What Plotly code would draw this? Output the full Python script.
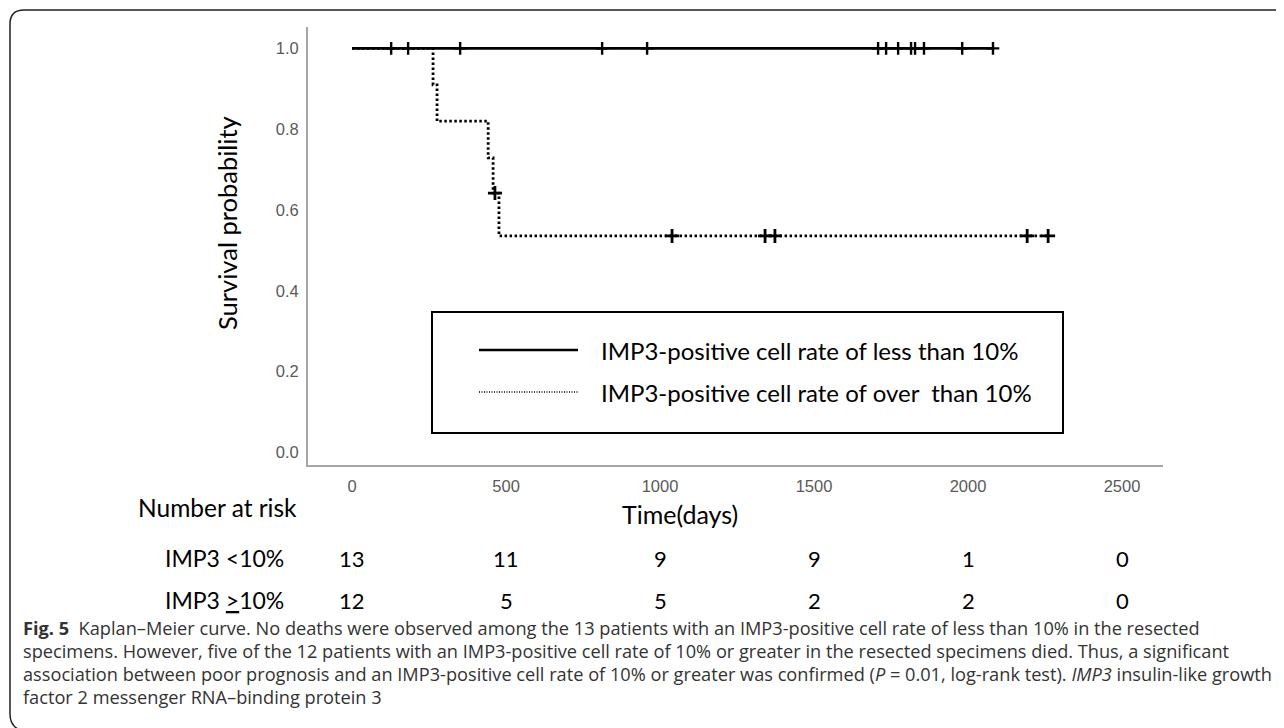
import plotly.graph_objects as go

# ---------------- data ----------------
# Group 1: IMP3 < 10% (no deaths)
low_times = [0, 2081]
low_surv = [1.0, 1.0]
low_censor_times = [127, 182, 351, 812, 958, 1708, 1734, 1773, 1815, 1828, 1857, 1981, 2081]
low_censor_surv = [1.0] * len(low_censor_times)

# Group 2: IMP3 >= 10%
high_times = [0, 263, 276, 442, 458, 477, 2260]
high_surv = [1.0, 0.910, 0.820, 0.729, 0.642, 0.536, 0.536]
high_censor_times = [464, 1039, 1341, 1373, 2192, 2260]
high_censor_surv = [0.642, 0.536, 0.536, 0.536, 0.536, 0.536]

x_ticks = [0, 500, 1000, 1500, 2000, 2500]
x_tick_labels = ["0", "500", "1000", "1500", "2000", "2500"]
y_ticks = [0.0, 0.2, 0.4, 0.6, 0.8, 1.0]
y_tick_labels = ["0.0", "0.2", "0.4", "0.6", "0.8", "1.0"]

risk_times = [0, 500, 1000, 1500, 2000, 2500]
risk_low = [13, 11, 9, 9, 1, 0]
risk_high = [12, 5, 5, 2, 2, 0]
risk_labels = ["IMP3 <10%", "IMP3 <u>></u>10%"]

legend_labels = ["IMP3-positive cell rate of less than 10%",
                 "IMP3-positive cell rate of over  than 10%"]

caption_lines = [
    "<b>Fig. 5</b>  Kaplan–Meier curve. No deaths were observed among the 13 patients with an IMP3-positive cell rate of less than 10% in the resected",
    "specimens. However, five of the 12 patients with an IMP3-positive cell rate of 10% or greater in the resected specimens died. Thus, a significant",
    "association between poor prognosis and an IMP3-positive cell rate of 10% or greater was confirmed (<i>P</i> = 0.01, log-rank test). <i>IMP3</i> insulin-like growth",
    "factor 2 messenger RNA–binding protein 3",
]

# ---------------- layout geometry ----------------
OFF = 8                      # page body margin of the browser
W, H = 1284 - OFF, 728 - OFF
L, R, T, B = 300, 121, 19, 263
PW, PH = W - L - R, H - T - B


def px(xp):
    return (xp - OFF - L) / PW


def py(yp):
    return 1 - (yp - OFF - T) / PH


CHART_FONT = "Lato"
CAP_FONT = "Open Sans"

fig = go.Figure()

fig.add_trace(go.Scatter(x=low_times, y=low_surv, mode="lines", line_shape="hv",
                         line=dict(color="black", width=2.6), showlegend=False,
                         hoverinfo="skip"))
fig.add_trace(go.Scatter(x=low_censor_times, y=low_censor_surv, mode="markers",
                         marker=dict(symbol="cross-thin", size=9,
                                     line=dict(color="black", width=2.4)),
                         showlegend=False, hoverinfo="skip"))
fig.add_trace(go.Scatter(x=high_times, y=high_surv, mode="lines", line_shape="hv",
                         line=dict(color="black", width=2.8, dash="2.5px,2.5px"),
                         showlegend=False, hoverinfo="skip"))
fig.add_trace(go.Scatter(x=high_censor_times, y=high_censor_surv, mode="markers",
                         marker=dict(symbol="cross-thin", size=10,
                                     line=dict(color="black", width=2.8)),
                         showlegend=False, hoverinfo="skip"))

shapes = []
# outer rounded frame (top + left edges)
frame_path = (f"M {px(1300)} {py(10)} L {px(24)} {py(10)} "
              f"Q {px(10)} {py(10)} {px(10)} {py(24)} "
              f"L {px(10)} {py(714)} Q {px(10)} {py(726)} {px(20)} {py(730)}")
shapes.append(dict(type="path", xref="paper", yref="paper", path=frame_path,
                   line=dict(color="#222222", width=1.5)))
# legend box
shapes.append(dict(type="rect", xref="paper", yref="paper",
                   x0=px(432), x1=px(1063), y0=py(433), y1=py(312),
                   line=dict(color="black", width=2), fillcolor="rgba(0,0,0,0)"))
shapes.append(dict(type="line", xref="paper", yref="paper",
                   x0=px(479), x1=px(578), y0=py(350), y1=py(350),
                   line=dict(color="black", width=2.4)))
shapes.append(dict(type="line", xref="paper", yref="paper",
                   x0=px(479), x1=px(578), y0=py(392), y1=py(392),
                   line=dict(color="black", width=1.4, dash="1px,1.5px")))

annotations = []
for i, lab in enumerate(legend_labels):
    annotations.append(dict(xref="paper", yref="paper", x=px(599), y=py([350, 392][i]),
                            text=lab, showarrow=False, xanchor="left", yanchor="middle",
                            font=dict(family=CHART_FONT, size=24, color="black")))

annotations.append(dict(xref="paper", yref="paper", x=px(227), y=py(223),
                        text="Survival probability", textangle=-90, showarrow=False,
                        xanchor="center", yanchor="middle",
                        font=dict(family=CHART_FONT, size=25.5, color="black")))
annotations.append(dict(xref="paper", yref="paper", x=px(680), y=py(514),
                        text="Time(days)", showarrow=False,
                        xanchor="center", yanchor="middle",
                        font=dict(family=CHART_FONT, size=25, color="black")))
annotations.append(dict(xref="paper", yref="paper", x=px(299), y=py(507),
                        text="Number at risk", showarrow=False,
                        xanchor="right", yanchor="middle",
                        font=dict(family=CHART_FONT, size=24.5, color="black")))

for lab, row, yy in zip(risk_labels, [risk_low, risk_high], [558, 600]):
    annotations.append(dict(xref="paper", yref="paper", x=px(286), y=py(yy),
                            text=lab, showarrow=False, xanchor="right", yanchor="middle",
                            font=dict(family=CHART_FONT, size=23, color="black")))
    for t, n in zip(risk_times, row):
        annotations.append(dict(xref="x", yref="paper", x=t, y=py(yy),
                                text=str(n), showarrow=False, xanchor="center",
                                yanchor="middle",
                                font=dict(family=CHART_FONT, size=22, color="black")))

for line, yy in zip(caption_lines, [628, 651, 674, 697]):
    annotations.append(dict(xref="paper", yref="paper", x=px(21), y=py(yy),
                            text=line, showarrow=False, xanchor="left", yanchor="middle",
                            font=dict(family=CAP_FONT, size=18.2, color="#333333")))

fig.update_layout(
    width=W, height=H,
    margin=dict(l=L, r=R, t=T, b=B, autoexpand=False),
    paper_bgcolor="white", plot_bgcolor="white",
    shapes=shapes, annotations=annotations,
    xaxis=dict(range=[-143, 2633], showgrid=False, zeroline=False,
               showline=True, linecolor="#a6a6a6", linewidth=2,
               tickvals=x_ticks, ticktext=x_tick_labels, ticks="",
               ticklabelstandoff=5,
               tickfont=dict(family="Liberation Sans", size=16.5, color="#5a5a5a")),
    yaxis=dict(range=[-0.031, 1.053], showgrid=False, zeroline=False,
               showline=True, linecolor="#a6a6a6", linewidth=2,
               tickvals=y_ticks, ticktext=y_tick_labels, ticks="",
               ticklabelstandoff=4,
               tickfont=dict(family="Liberation Sans", size=16.5, color="#5a5a5a")),
)

fig.write_html("out.html")
